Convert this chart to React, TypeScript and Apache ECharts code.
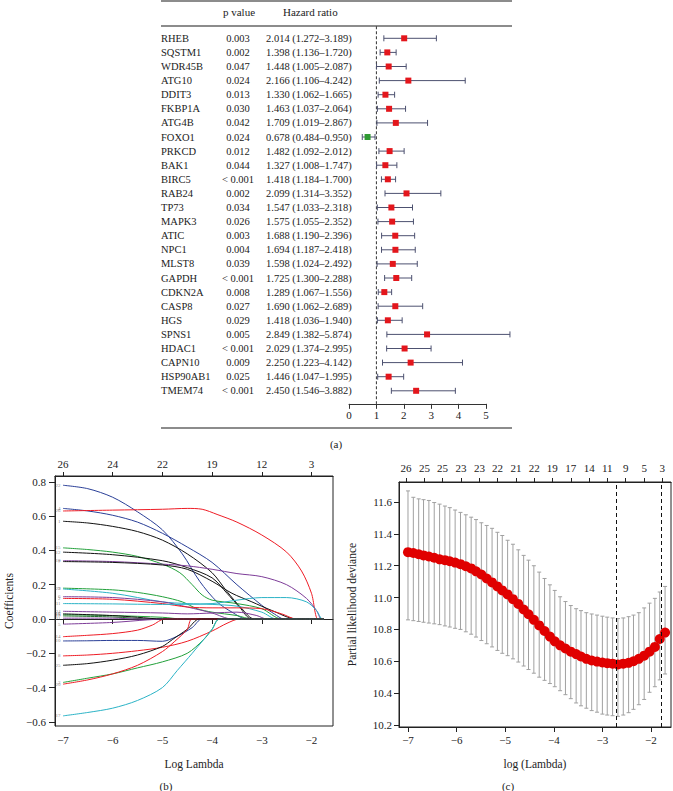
import React, { useEffect, useRef } from 'react';
import * as echarts from 'echarts';

// ---------- Panel (a): forest plot ----------
const genes = ['RHEB', 'SQSTM1', 'WDR45B', 'ATG10', 'DDIT3', 'FKBP1A', 'ATG4B', 'FOXO1', 'PRKCD', 'BAK1', 'BIRC5', 'RAB24', 'TP73', 'MAPK3', 'ATIC', 'NPC1', 'MLST8', 'GAPDH', 'CDKN2A', 'CASP8', 'HGS', 'SPNS1', 'HDAC1', 'CAPN10', 'HSP90AB1', 'TMEM74'];
const pValues = ['0.003', '0.002', '0.047', '0.024', '0.013', '0.030', '0.042', '0.024', '0.012', '0.044', '< 0.001', '0.002', '0.034', '0.026', '0.003', '0.004', '0.039', '< 0.001', '0.008', '0.027', '0.029', '0.005', '< 0.001', '0.009', '0.025', '< 0.001'];
const hrValues = [2.014, 1.398, 1.448, 2.166, 1.330, 1.463, 1.709, 0.678, 1.482, 1.327, 1.418, 2.099, 1.547, 1.575, 1.688, 1.694, 1.598, 1.725, 1.289, 1.690, 1.418, 2.849, 2.029, 2.250, 1.446, 2.450];
const hrLower = [1.272, 1.136, 1.005, 1.106, 1.062, 1.037, 1.019, 0.484, 1.092, 1.008, 1.184, 1.314, 1.033, 1.055, 1.190, 1.187, 1.024, 1.300, 1.067, 1.062, 1.036, 1.382, 1.374, 1.223, 1.047, 1.546];
const hrUpper = [3.189, 1.720, 2.087, 4.242, 1.665, 2.064, 2.867, 0.950, 2.012, 1.747, 1.700, 3.352, 2.318, 2.352, 2.396, 2.418, 2.492, 2.288, 1.556, 2.689, 1.940, 5.874, 2.995, 4.142, 1.995, 3.882];
const hrRef = 1;

// ---------- Panel (b): coefficient paths ----------
const bTicks = [-7, -6, -5, -4, -3, -2];
const bTopLabels = [26, 24, 22, 19, 12, 3];
const bYTicks = [-0.6, -0.4, -0.2, 0, 0.2, 0.4, 0.6, 0.8];
const pathIds = ['22', '4', '26', '1', '15', '12', '18', '7', '9', '23', '6', '2', '11', '24', '13', '19', '21', '5', '14', '10', '8', '25', '3', '20', '17', '16'];
const pathPoints: number[][][] = [
  [[-7, 0.78], [-6.5, 0.76], [-6, 0.71], [-5.5, 0.625], [-5, 0.52], [-4.6, 0.38], [-4.25, 0.22], [-3.9, 0.1], [-3.6, 0.04], [-3.3, 0], [-1.75, 0]],
  [[-7, 0.645], [-6.5, 0.63], [-6, 0.605], [-5.5, 0.565], [-5, 0.5], [-4.5, 0.42], [-4, 0.33], [-3.5, 0.2], [-3, 0.08], [-2.75, 0.03], [-2.55, 0], [-1.75, 0]],
  [[-7, 0.63], [-6, 0.635], [-5, 0.64], [-4.5, 0.645], [-4.2, 0.64], [-3.9, 0.61], [-3.5, 0.565], [-3, 0.49], [-2.5, 0.39], [-2.2, 0.28], [-2.0, 0.15], [-1.87, 0], [-1.75, 0]],
  [[-7, 0.57], [-6.5, 0.56], [-6, 0.54], [-5.5, 0.51], [-5, 0.46], [-4.5, 0.38], [-4, 0.27], [-3.7, 0.16], [-3.4, 0.06], [-3.15, 0], [-1.75, 0]],
  [[-7, 0.415], [-6.5, 0.405], [-6, 0.39], [-5.5, 0.365], [-5, 0.32], [-4.65, 0.27], [-4.4, 0.2], [-4.2, 0.14], [-4.0, 0.11], [-3.5, 0.09], [-3, 0.06], [-2.6, 0], [-1.75, 0]],
  [[-7, 0.39], [-6, 0.375], [-5, 0.34], [-4.5, 0.3], [-4, 0.24], [-3.7, 0.15], [-3.45, 0.07], [-3.2, 0], [-1.75, 0]],
  [[-7, 0.34], [-6, 0.335], [-5, 0.32], [-4.5, 0.31], [-4, 0.29], [-3.5, 0.265], [-3, 0.247], [-2.5, 0.2], [-2.1, 0.12], [-1.9, 0.05], [-1.8, 0], [-1.75, 0]],
  [[-7, 0.335], [-6, 0.33], [-5, 0.315], [-4.5, 0.29], [-4, 0.22], [-3.6, 0.15], [-3.2, 0.1], [-2.8, 0.05], [-2.3, 0], [-1.75, 0]],
  [[-7, 0.18], [-6, 0.17], [-5.5, 0.155], [-5, 0.13], [-4.6, 0.1], [-4.3, 0.06], [-4, 0.04], [-3.5, 0.02], [-3.2, 0], [-1.75, 0]],
  [[-7, 0.175], [-6, 0.15], [-5, 0.1], [-4.5, 0.09], [-4, 0.085], [-3.5, 0.075], [-3, 0.04], [-2.7, 0], [-1.75, 0]],
  [[-7, 0.13], [-6, 0.125], [-5, 0.1], [-4.5, 0.07], [-4, 0.035], [-3.6, 0], [-1.75, 0]],
  [[-7, 0.12], [-6, 0.115], [-5, 0.09], [-4.5, 0.07], [-4, 0.065], [-3.5, 0.065], [-3, 0.06], [-2.6, 0.03], [-2.3, 0], [-1.75, 0]],
  [[-7, 0.09], [-6, 0.088], [-5, 0.085], [-4, 0.09], [-3.5, 0.11], [-3, 0.125], [-2.5, 0.125], [-2.1, 0.1], [-1.9, 0.05], [-1.78, 0], [-1.75, 0]],
  [[-7, 0.045], [-6, 0.04], [-5, 0.035], [-4.5, 0.03], [-4, 0.035], [-3.5, 0.04], [-3.1, 0.02], [-2.9, 0], [-1.75, 0]],
  [[-7, 0.025], [-6, 0.02], [-5, 0.01], [-4.6, 0], [-1.75, 0]],
  [[-7, 0.018], [-6, 0.012], [-5.2, 0], [-1.75, 0]],
  [[-7, 0.005], [-6, 0.005], [-5.5, 0], [-1.75, 0]],
  [[-7, -0.03], [-6, -0.02], [-5.3, -0.005], [-4.9, 0], [-1.75, 0]],
  [[-7, -0.103], [-6.5, -0.095], [-6, -0.085], [-5.5, -0.065], [-5.2, -0.035], [-4.95, 0], [-1.75, 0]],
  [[-7, -0.128], [-6.5, -0.127], [-6, -0.125], [-5.5, -0.125], [-5, -0.13], [-4.7, -0.1], [-4.4, -0.05], [-4.2, 0], [-1.75, 0]],
  [[-7, -0.215], [-6.5, -0.21], [-6, -0.2], [-5.5, -0.185], [-5, -0.165], [-4.5, -0.13], [-4, -0.07], [-3.7, -0.025], [-3.45, 0], [-1.75, 0]],
  [[-7, -0.27], [-6.5, -0.26], [-6, -0.24], [-5.5, -0.21], [-5, -0.16], [-4.8, -0.12], [-4.5, -0.06], [-4.25, 0], [-1.75, 0]],
  [[-7, -0.37], [-6.5, -0.345], [-6, -0.32], [-5.5, -0.285], [-5, -0.25], [-4.5, -0.2], [-4.17, -0.12], [-4.0, -0.06], [-3.85, 0], [-1.75, 0]],
  [[-7, -0.38], [-6.5, -0.355], [-6, -0.32], [-5.5, -0.27], [-5, -0.19], [-4.75, -0.13], [-4.5, -0.06], [-4.4, 0], [-1.75, 0]],
  [[-7, -0.565], [-6.5, -0.545], [-6, -0.52], [-5.5, -0.475], [-5, -0.4], [-4.7, -0.3], [-4.4, -0.2], [-4.17, -0.12], [-4.0, -0.06], [-3.85, 0], [-1.75, 0]],
  [[-7, 0.03], [-6, 0.02], [-5.5, 0.01], [-5, 0], [-1.75, 0]],
];

// ---------- Panel (c): cross-validation curve ----------
const cTicks = [-7, -6, -5, -4, -3, -2];
const cTopPos = [-7.04, -6.66, -6.29, -5.91, -5.53, -5.16, -4.78, -4.40, -4.03, -3.65, -3.27, -2.90, -2.52, -2.14, -1.77];
const cTopLabels = [26, 25, 25, 23, 23, 22, 21, 22, 19, 17, 14, 11, 9, 5, 3];
const cYTicks = [10.2, 10.4, 10.6, 10.8, 11.0, 11.2, 11.4, 11.6];
const lamC = [-7.00, -6.89, -6.78, -6.68, -6.57, -6.46, -6.35, -6.24, -6.14, -6.03, -5.92, -5.81, -5.70, -5.60, -5.49, -5.38, -5.27, -5.16, -5.06, -4.95, -4.84, -4.73, -4.62, -4.52, -4.41, -4.30, -4.19, -4.08, -3.98, -3.87, -3.76, -3.65, -3.54, -3.44, -3.33, -3.22, -3.11, -3.00, -2.90, -2.79, -2.68, -2.57, -2.46, -2.36, -2.25, -2.14, -2.03, -1.92, -1.82, -1.71];
const cvMean = [11.285, 11.28, 11.272, 11.265, 11.258, 11.25, 11.24, 11.235, 11.228, 11.22, 11.21, 11.197, 11.183, 11.165, 11.145, 11.12, 11.095, 11.07, 11.045, 11.02, 10.99, 10.96, 10.925, 10.895, 10.86, 10.825, 10.79, 10.755, 10.725, 10.7, 10.68, 10.66, 10.645, 10.63, 10.615, 10.605, 10.598, 10.592, 10.588, 10.585, 10.58, 10.585, 10.59, 10.6, 10.615, 10.635, 10.66, 10.69, 10.74, 10.78];
const cvUpper = [11.67, 11.63, 11.62, 11.615, 11.61, 11.597, 11.587, 11.575, 11.565, 11.55, 11.535, 11.52, 11.505, 11.49, 11.47, 11.453, 11.435, 11.41, 11.39, 11.36, 11.335, 11.3, 11.265, 11.235, 11.2, 11.16, 11.12, 11.08, 11.045, 11.005, 10.975, 10.95, 10.93, 10.918, 10.905, 10.897, 10.89, 10.883, 10.877, 10.872, 10.868, 10.872, 10.88, 10.89, 10.905, 10.935, 10.965, 10.995, 11.035, 11.07];
const cvLower = [10.86, 10.855, 10.85, 10.845, 10.84, 10.835, 10.83, 10.822, 10.815, 10.807, 10.8, 10.785, 10.77, 10.752, 10.73, 10.71, 10.69, 10.668, 10.65, 10.635, 10.615, 10.595, 10.57, 10.548, 10.525, 10.5, 10.48, 10.46, 10.44, 10.415, 10.39, 10.365, 10.338, 10.32, 10.305, 10.29, 10.28, 10.268, 10.262, 10.258, 10.254, 10.262, 10.277, 10.298, 10.327, 10.36, 10.405, 10.44, 10.483, 10.52];
const lambdaMin = -2.71;
const lambda1se = -1.78;

// ---------- styles ----------
const F = '"Liberation Serif", "Times New Roman", serif';
const INK = '#222';
const RED = '#e3161c';
const GREEN = '#2f9a33';
const BLACK = '#111';
const PRED = '#ee1c25';
const PGREEN = '#22a03a';
const PBLUE = '#2a3f97';
const PCYAN = '#2bb3c6';
const PPURPLE = '#7d3c98';
const PDGREEN = '#1f6f2a';
const pathColors = [PBLUE, PBLUE, PRED, BLACK, PGREEN, BLACK, PPURPLE, BLACK, PGREEN, PCYAN, PPURPLE, PRED, PCYAN, PPURPLE, PGREEN, PDGREEN, PPURPLE, PPURPLE, PRED, PBLUE, PRED, BLACK, PGREEN, PRED, PCYAN, BLACK];

const minus = (s: string) => s.replace('-', '\u2212');
const fmt0 = (v: number) => minus(String(Math.round(v)));
const fmt1 = (v: number) => minus(v.toFixed(1));
const nearestLabel = (pos: number[], labels: number[]) => (v: number) => {
  let best = 0;
  for (let i = 1; i < pos.length; i++) if (Math.abs(pos[i] - v) < Math.abs(pos[best] - v)) best = i;
  return String(labels[best]);
};

export default function App() {
  const ref = useRef<HTMLDivElement>(null);
  useEffect(() => {
    const chart = echarts.init(ref.current!, null, { renderer: 'svg' });
    const hrText = hrValues.map((v, i) => `${v.toFixed(3)} (${hrLower[i].toFixed(3)}\u2013${hrUpper[i].toFixed(3)})`);
    const axLine = { show: true, lineStyle: { color: INK, width: 1 } };
    const tickStyle = { color: INK, width: 1 };
    const lblBase = { fontFamily: F, fontSize: 11, color: INK };

    const catY = (data: string[], align: string, margin: number) => ({
      gridIndex: 0, type: 'category', data, inverse: true, position: 'left', offset: 0,
      axisLine: { show: false }, axisTick: { show: false },
      axisLabel: { interval: 0, align, margin, fontFamily: F, fontSize: 10.5, color: INK },
    });

    const pathSeries = pathPoints.map((pts, i) => ({
      type: 'line', xAxisIndex: 1, yAxisIndex: 3, data: pts, showSymbol: false, symbol: 'none',
      smooth: 0.3, lineStyle: { color: pathColors[i], width: 1 }, silent: true, z: 2,
    }));

    const option: any = {
      animation: false,
      textStyle: { fontFamily: F },
      grid: [
        { left: 349, top: 31.25, width: 137, height: 366.6 },
        { left: 55, top: 476, width: 278, height: 250, show: true, borderColor: INK, borderWidth: 1 },
        { left: 399, top: 482, width: 272, height: 245, show: true, borderColor: INK, borderWidth: 1 },
      ],
      xAxis: [
        { gridIndex: 0, type: 'value', min: 0, max: 5, interval: 1, offset: 6,
          axisLine: { show: true, lineStyle: { color: '#333', width: 1 } },
          axisTick: { show: true, length: 5, lineStyle: { color: '#333' } },
          axisLabel: { ...lblBase, margin: 6 }, splitLine: { show: false } },
        { gridIndex: 1, type: 'value', min: -7.161, max: -1.567, position: 'bottom',
          axisLine: axLine, axisTick: { show: true, length: 5, customValues: bTicks, lineStyle: tickStyle },
          axisLabel: { ...lblBase, customValues: bTicks, formatter: fmt0, margin: 8 }, splitLine: { show: false },
          name: 'Log Lambda', nameLocation: 'middle', nameGap: 32, nameTextStyle: { fontFamily: F, fontSize: 11.5, color: INK } },
        { gridIndex: 1, type: 'value', min: -7.161, max: -1.567, position: 'top',
          axisLine: axLine, axisTick: { show: true, length: 4, customValues: bTicks, lineStyle: tickStyle },
          axisLabel: { ...lblBase, customValues: bTicks, formatter: nearestLabel(bTicks, bTopLabels), margin: 7 }, splitLine: { show: false } },
        { gridIndex: 2, type: 'value', min: -7.185, max: -1.588, position: 'bottom',
          axisLine: axLine, axisTick: { show: true, length: 5, customValues: cTicks, lineStyle: tickStyle },
          axisLabel: { ...lblBase, customValues: cTicks, formatter: fmt0, margin: 7 }, splitLine: { show: false },
          name: 'log (Lambda)', nameLocation: 'middle', nameGap: 31, nameTextStyle: { fontFamily: F, fontSize: 11.5, color: INK } },
        { gridIndex: 2, type: 'value', min: -7.185, max: -1.588, position: 'top',
          axisLine: axLine, axisTick: { show: true, length: 4, customValues: cTopPos, lineStyle: tickStyle },
          axisLabel: { ...lblBase, customValues: cTopPos, formatter: nearestLabel(cTopPos, cTopLabels), margin: 9 }, splitLine: { show: false } },
      ],
      yAxis: [
        catY(genes, 'left', 188),
        catY(pValues, 'center', 111),
        catY(hrText, 'left', 83),
        { gridIndex: 1, type: 'value', min: -0.624, max: 0.834, position: 'left',
          axisLine: axLine, axisTick: { show: true, length: 6, customValues: bYTicks, lineStyle: tickStyle },
          axisLabel: { ...lblBase, customValues: bYTicks, formatter: fmt1, margin: 9 }, splitLine: { show: false },
          name: 'Coefficients', nameLocation: 'middle', nameGap: 40, nameTextStyle: { fontFamily: F, fontSize: 11.5, color: INK } },
        { gridIndex: 2, type: 'value', min: 10.187, max: 11.726, position: 'left',
          axisLine: axLine, axisTick: { show: true, length: 5, customValues: cYTicks, lineStyle: tickStyle },
          axisLabel: { ...lblBase, customValues: cYTicks, formatter: fmt1, margin: 7 }, splitLine: { show: false },
          name: 'Partial likelihood deviance', nameLocation: 'middle', nameGap: 41, nameTextStyle: { fontFamily: F, fontSize: 11.5, color: INK } },
      ],
      series: [
        // reference line at HR = 1
        { type: 'custom', xAxisIndex: 0, yAxisIndex: 0, clip: false, silent: true,
          data: [[hrRef, 0]], encode: { x: 0, y: 1 },
          renderItem: (params: any, api: any) => {
            const p = api.coord([api.value(0), 0]);
            const cs = params.coordSys;
            return { type: 'line', shape: { x1: p[0], y1: cs.y - 5, x2: p[0], y2: cs.y + cs.height + 6 },
              style: { stroke: '#333', lineWidth: 1, lineDash: [3, 2] } };
          } },
        // whiskers
        { type: 'custom', xAxisIndex: 0, yAxisIndex: 0, clip: false, silent: true,
          data: genes.map((_, i) => [hrLower[i], hrUpper[i], i]), encode: { x: [0, 1], y: 2 },
          renderItem: (_p: any, api: any) => {
            const row = api.value(2);
            const a = api.coord([api.value(0), row]);
            const b = api.coord([api.value(1), row]);
            const st = { stroke: '#4d5170', lineWidth: 1 };
            return { type: 'group', children: [
              { type: 'line', shape: { x1: a[0], y1: a[1], x2: b[0], y2: b[1] }, style: st },
              { type: 'line', shape: { x1: a[0], y1: a[1] - 3, x2: a[0], y2: a[1] + 3 }, style: st },
              { type: 'line', shape: { x1: b[0], y1: b[1] - 3, x2: b[0], y2: b[1] + 3 }, style: st },
            ] };
          } },
        // HR squares
        { type: 'scatter', xAxisIndex: 0, yAxisIndex: 0, clip: false, symbol: 'rect', symbolSize: 6, silent: true,
          data: hrValues.map((v, i) => ({ value: [v, i], itemStyle: { color: v < hrRef ? GREEN : RED, opacity: 1 } })) },
        // coefficient paths
        ...pathSeries,
        // path index labels
        { type: 'scatter', xAxisIndex: 1, yAxisIndex: 3, symbolSize: 1, silent: true,
          itemStyle: { color: 'rgba(0,0,0,0)' },
          data: pathPoints.map((p, i) => [p[0][0], p[0][1], pathIds[i]]),
          label: { show: true, position: 'left', distance: 2, fontSize: 5, color: '#666', fontFamily: F,
            formatter: (p: any) => p.value[2] } },
        // error bars
        { type: 'custom', xAxisIndex: 3, yAxisIndex: 4, silent: true,
          data: lamC.map((x, i) => [x, cvLower[i], cvUpper[i]]), encode: { x: 0, y: [1, 2] },
          renderItem: (_p: any, api: any) => {
            const x = api.value(0);
            const lo = api.coord([x, api.value(1)]);
            const hi = api.coord([x, api.value(2)]);
            const st = { stroke: '#a0a0a0', lineWidth: 1 };
            return { type: 'group', children: [
              { type: 'line', shape: { x1: lo[0], y1: lo[1], x2: hi[0], y2: hi[1] }, style: st },
              { type: 'line', shape: { x1: hi[0] - 2, y1: hi[1], x2: hi[0] + 2, y2: hi[1] }, style: st },
              { type: 'line', shape: { x1: lo[0] - 2, y1: lo[1], x2: lo[0] + 2, y2: lo[1] }, style: st },
            ] };
          } },
        // mean deviance points
        { type: 'scatter', xAxisIndex: 3, yAxisIndex: 4, symbolSize: 10, silent: true,
          itemStyle: { color: '#e00000', opacity: 1 },
          data: lamC.map((x, i) => [x, cvMean[i]]),
          markLine: { silent: true, symbol: ['none', 'none'], label: { show: false },
            lineStyle: { color: BLACK, width: 1, type: [4, 3] },
            data: [{ xAxis: lambdaMin }, { xAxis: lambda1se }] } },
      ],
      graphic: [
        { type: 'line', shape: { x1: 161, y1: 1, x2: 512, y2: 1 }, style: { stroke: '#666', lineWidth: 1.5 } },
        { type: 'line', shape: { x1: 161, y1: 26, x2: 512, y2: 26 }, style: { stroke: '#666', lineWidth: 1.5 } },
        { type: 'line', shape: { x1: 161, y1: 428, x2: 512, y2: 428 }, style: { stroke: '#666', lineWidth: 1.5 } },
        { type: 'text', x: 239, y: 12, style: { text: 'p value', fontFamily: F, fontSize: 11, fill: INK, align: 'center', verticalAlign: 'middle' } },
        { type: 'text', x: 283, y: 12, style: { text: 'Hazard ratio', fontFamily: F, fontSize: 11, fill: INK, align: 'left', verticalAlign: 'middle' } },
        { type: 'text', x: 336, y: 444, style: { text: '(a)', fontFamily: F, fontSize: 11, fill: INK, align: 'center', verticalAlign: 'middle' } },
        { type: 'text', x: 166, y: 786, style: { text: '(b)', fontFamily: F, fontSize: 11, fill: INK, align: 'center', verticalAlign: 'middle' } },
        { type: 'text', x: 508, y: 786, style: { text: '(c)', fontFamily: F, fontSize: 11, fill: INK, align: 'center', verticalAlign: 'middle' } },
      ],
    };
    chart.setOption(option);
    return () => chart.dispose();
  }, []);
  return <div ref={ref} style={{ position: 'absolute', left: 0, top: 0, width: 673, height: 791 }} />;
}
